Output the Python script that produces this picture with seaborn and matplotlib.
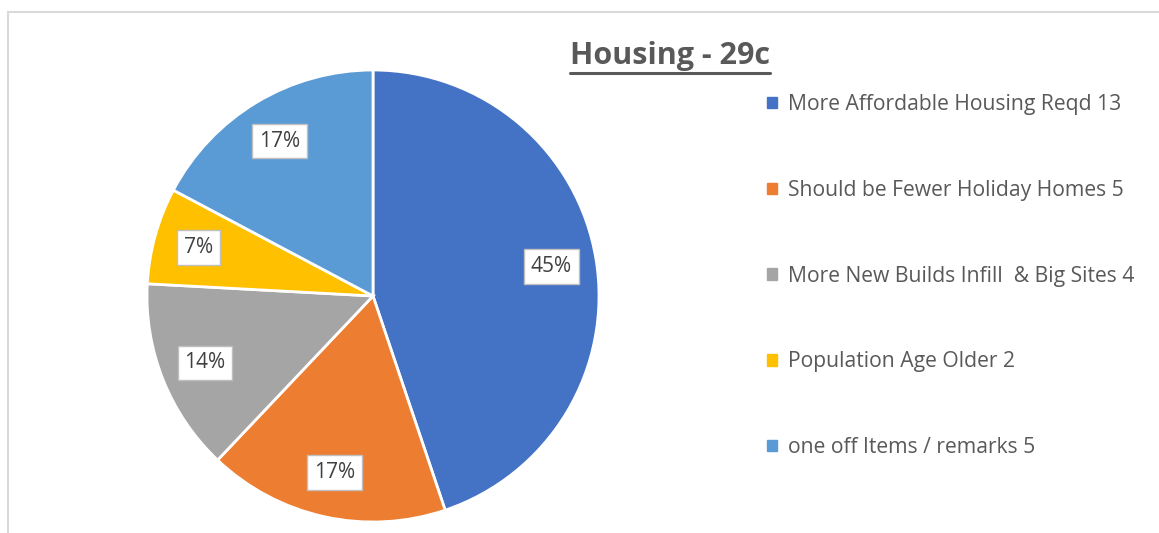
import matplotlib
matplotlib.use("Agg")
import matplotlib.pyplot as plt
import seaborn as sns
from matplotlib.patches import Patch, Rectangle

categories = ["More Affordable Housing Reqd 13", "Should be Fewer Holiday Homes 5",
              "More New Builds Infill  & Big Sites 4", "Population Age Older 2",
              "one off Items / remarks 5"]
values = [13, 5, 4, 2, 5]
colors = ["#4472C4", "#ED7D31", "#A5A5A5", "#FFC000", "#5B9BD5"]
title = "Housing - 29c"

sns.set_theme(style="white")
plt.rcParams['font.family'] = ['Open Sans', 'DejaVu Sans']

W, H = 1159, 533
fig = plt.figure(figsize=(W / 100, H / 100), dpi=100)
fig.patch.set_facecolor("white")

# frame (left and top border visible)
fig.patches.append(Rectangle((8 / W, -0.1), 2.0, (H - 12) / H + 0.1, transform=fig.transFigure,
                             fill=False, edgecolor="#D9D9D9", linewidth=1.5))

cx, cy, r = 373, 296, 226
ax = fig.add_axes([(cx - r) / W, (H - cy - r) / H, 2 * r / W, 2 * r / H])
wedges, texts, autotexts = ax.pie(
    values, colors=colors, startangle=90, counterclock=False,
    autopct=lambda p: f"{p:.0f}%", pctdistance=0.8,
    wedgeprops=dict(edgecolor="white", linewidth=2),
    textprops=dict(color="#404040", fontsize=15))
for t in autotexts:
    t.set_bbox(dict(boxstyle="square,pad=0.33", facecolor="white", edgecolor="#BFBFBF", linewidth=1))
ax.set_xlim(-1, 1)
ax.set_ylim(-1, 1)
ax.set_aspect("equal")
ax.axis("off")

ttl = fig.text(670 / W, 1 - 56 / H, title, ha="center", va="center", fontsize=22,
               fontweight="bold", color="#595959")
fig.canvas.draw()
bb = ttl.get_window_extent(fig.canvas.get_renderer())
fig.add_artist(plt.Line2D([bb.x0 / W, bb.x1 / W], [1 - 73 / H, 1 - 73 / H],
                          color="#595959", linewidth=2.2))

handles = [Patch(facecolor=c, edgecolor=c) for c in colors]
leg = fig.legend(handles, categories, loc="upper left", bbox_to_anchor=(748 / W, 1 - 75 / H),
                 frameon=False, fontsize=15.2, handlelength=0.45, handleheight=0.45,
                 handletextpad=0.55, labelspacing=3.07, labelcolor="#595959")

fig.savefig("out.png", dpi=100, facecolor="white")
